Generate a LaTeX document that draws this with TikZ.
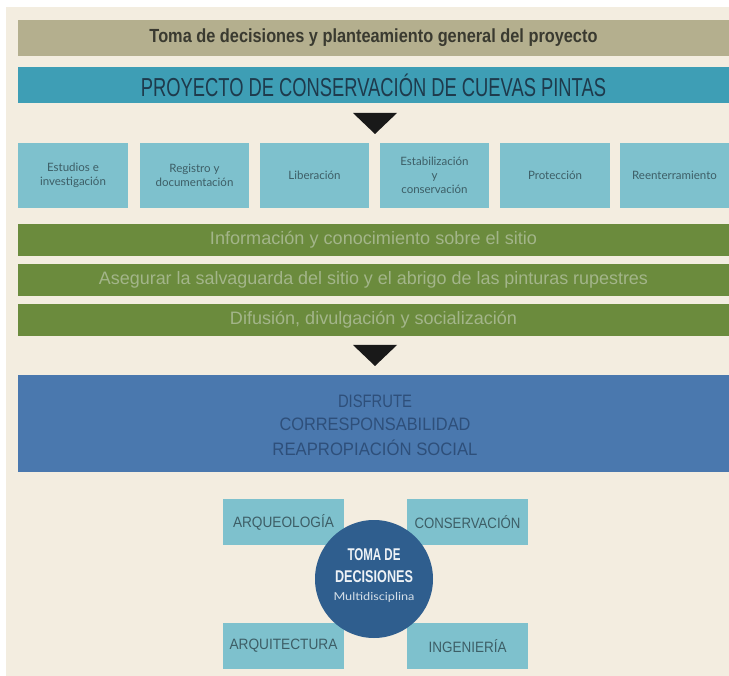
\documentclass[tikz,border=0pt]{standalone}
\usepackage{fontspec}
\usepackage{graphicx}
\setmainfont{Liberation Sans}
\newfontfamily\boxf{Lato}
\newcommand\fitw[2]{\resizebox{#1}{\height}{#2}}
\definecolor{cream}{HTML}{F3EDE0}
\definecolor{khaki}{HTML}{B4AF8E}
\definecolor{teal}{HTML}{3E9EB5}
\definecolor{lteal}{HTML}{7EC1CD}
\definecolor{ogreen}{HTML}{6B8B3D}
\definecolor{sblue}{HTML}{4A78AE}
\definecolor{dblue}{HTML}{2F5E8E}
\definecolor{khtext}{HTML}{3A3A30}
\definecolor{prtext}{HTML}{1E3A4C}
\definecolor{bxtext}{HTML}{3D5E66}
\definecolor{grtext}{HTML}{A3B58A}
\definecolor{bltext}{HTML}{2E4F7A}
\tikzset{
  band/.style={rectangle, inner sep=0pt, minimum width=711pt},
  stepbox/.style={rectangle, fill=lteal, inner sep=0pt, minimum height=65pt, align=center, text=bxtext, font=\boxf\fontsize{11.5}{14}\selectfont},
  greenbar/.style={band, fill=ogreen, minimum height=32pt, text=grtext},
  discbox/.style={rectangle, fill=lteal, inner sep=0pt, minimum width=121pt, minimum height=46pt, text=bxtext},
  arrowtri/.style={fill=black!90}
}
\begin{document}
\begin{tikzpicture}[x=1pt,y=-1pt]
\useasboundingbox (0,0) rectangle (729,676);
\fill[white] (0,0) rectangle (729,676);
\fill[cream] (6,7) rectangle (729,676);

\node[band, fill=khaki, minimum height=36pt] (top) at (373.5,38)
  {\fitw{448pt}{\bfseries\fontsize{19}{21}\selectfont\color{khtext}Toma de decisiones y planteamiento general del proyecto}};
\node[band, fill=teal, minimum height=36pt] (proj) at (373.5,85)
  {\fitw{465pt}{\fontsize{26}{28}\selectfont\color{prtext}PROYECTO DE CONSERVACIÓN DE CUEVAS PINTAS}};

\fill[arrowtri] (353,113) -- (397,113) -- (375,134) -- cycle;

\node[stepbox, minimum width=110pt] (s1) at (73,175.5) {Estudios e\\investigación};
\node[stepbox, minimum width=109pt] (s2) at (194.5,175.5) {Registro y\\documentación};
\node[stepbox, minimum width=109pt] (s3) at (314.5,175.5) {Liberación};
\node[stepbox, minimum width=109pt] (s4) at (434.5,175.5) {Estabilización\\y\\conservación};
\node[stepbox, minimum width=110pt] (s5) at (555,175.5) {Protección};
\node[stepbox, minimum width=109pt] (s6) at (674.5,175.5) {Reenterramiento};

\node[greenbar] (g1) at (373.5,240)
  {\fitw{327pt}{\fontsize{18}{20}\selectfont Información y conocimiento sobre el sitio}};
\node[greenbar] (g2) at (373.5,280)
  {\fitw{549pt}{\fontsize{18}{20}\selectfont Asegurar la salvaguarda del sitio y el abrigo de las pinturas rupestres}};
\node[greenbar] (g3) at (373.5,320)
  {\fitw{287pt}{\fontsize{18}{20}\selectfont Difusión, divulgación y socialización}};

\fill[arrowtri] (353,345) -- (397,345) -- (375,366) -- cycle;

\node[band, fill=sblue, minimum height=97pt] (goal) at (373.5,423.5) {};
\node[text=bltext, inner sep=0pt] (d1) at (375,401)
  {\fitw{74pt}{\fontsize{18}{20}\selectfont DISFRUTE}};
\node[text=bltext, inner sep=0pt] (d2) at (375,424)
  {\fitw{191pt}{\fontsize{18}{20}\selectfont CORRESPONSABILIDAD}};
\node[text=bltext, inner sep=0pt] (d3) at (375,448)
  {\fitw{205pt}{\fontsize{18}{20}\selectfont REAPROPIACIÓN SOCIAL}};

\node[discbox] (arq) at (283.5,522)
  {\fitw{101pt}{\fontsize{15}{17}\selectfont ARQUEOLOGÍA}};
\node[discbox] (con) at (467.5,522)
  {\fitw{106pt}{\fontsize{15}{17}\selectfont CONSERVACIÓN}};
\node[discbox] (arqt) at (283.5,646)
  {\fitw{108pt}{\fontsize{15}{17}\selectfont ARQUITECTURA}};
\node[discbox] (ing) at (467.5,646)
  {\fitw{78pt}{\fontsize{15}{17}\selectfont INGENIERÍA}};

\node[circle, fill=dblue, minimum size=118pt, inner sep=0pt] (hub) at (374,579) {};
\node[text=white!92!dblue, inner sep=0pt] (h1) at (374,555)
  {\fitw{53pt}{\bfseries\fontsize{17}{19}\selectfont TOMA DE}};
\node[text=white!92!dblue, inner sep=0pt] (h2) at (374,577)
  {\fitw{78pt}{\bfseries\fontsize{17}{19}\selectfont DECISIONES}};
\node[text=white!80!dblue, inner sep=0pt] (h3) at (374,597)
  {\fitw{81pt}{\boxf\fontsize{11}{13}\selectfont Multidisciplina}};
\end{tikzpicture}
\end{document}
